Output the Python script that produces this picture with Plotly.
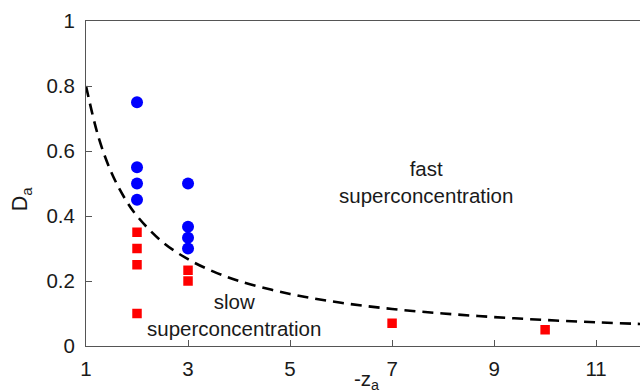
import plotly.graph_objects as go

# fast (blue circles)
fast_x = [2, 2, 2, 2, 3, 3, 3, 3]
fast_y = [0.75, 0.55, 0.50, 0.45, 0.50, 0.367, 0.333, 0.30]
# slow (red squares)
slow_x = [2, 2, 2, 2, 3, 3, 7, 10]
slow_y = [0.35, 0.30, 0.25, 0.10, 0.233, 0.20, 0.07, 0.05]
# dashed boundary curve
curve_x = [1, 1.25, 1.5, 1.75, 2, 2.5, 3, 3.5, 4, 5, 6, 7, 8, 9, 10, 11, 12]
curve_y = [0.80, 0.64, 0.533, 0.457, 0.40, 0.32, 0.267, 0.229, 0.20, 0.16, 0.133, 0.114, 0.10, 0.089, 0.08, 0.073, 0.067]

xticks = [1, 3, 5, 7, 9, 11]
yticks = [0, 0.2, 0.4, 0.6, 0.8, 1]
ytick_text = ["0", "0.2", "0.4", "0.6", "0.8", "1"]

FONT = "Liberation Sans, Arial, sans-serif"
TXT = "#1a1a1a"
FS = 20.5
fig = go.Figure()
fig.add_trace(go.Scatter(x=curve_x, y=curve_y, mode="lines", line=dict(color="black", width=2.6, dash="11px,7px"), line_shape="spline", hoverinfo="skip"))
fig.add_trace(go.Scatter(x=fast_x, y=fast_y, mode="markers", marker=dict(symbol="circle", size=12, color="#0000ff", line=dict(width=0))))
fig.add_trace(go.Scatter(x=slow_x, y=slow_y, mode="markers", marker=dict(symbol="square", size=9.5, color="#ff0000", line=dict(width=0))))

fig.add_annotation(x=7.67, y=0.505, text="fast<br>superconcentration", showarrow=False, font=dict(size=FS, color=TXT, family=FONT))
fig.add_annotation(x=3.9, y=0.094, text="slow<br>superconcentration", showarrow=False, font=dict(size=FS, color=TXT, family=FONT))
# axis titles
fig.add_annotation(xref="paper", yref="paper", x=0.507, y=-0.105, text="-z<sub>a</sub>", showarrow=False, yanchor="middle", font=dict(size=FS, color=TXT, family=FONT))
fig.add_annotation(xref="paper", yref="paper", x=-0.117, y=0.452, text="D<sub>a</sub>", textangle=-90, showarrow=False, xanchor="center", yanchor="middle", font=dict(size=FS + 1, color=TXT, family=FONT))

axis_common = dict(showgrid=False, zeroline=False, showline=True, linecolor="#555555", linewidth=1, mirror=True,
                   ticks="inside", ticklen=6, tickcolor="#555555", tickfont=dict(size=FS, color=TXT, family=FONT))
fig.update_xaxes(range=[1, 11.86], tickvals=xticks, ticklabelstandoff=4, **axis_common)
fig.update_yaxes(range=[0, 1], tickvals=yticks, ticktext=ytick_text, ticklabelstandoff=6, **axis_common)

fig.update_layout(width=640, height=392, margin=dict(l=86, r=0, t=21, b=46), paper_bgcolor="white", plot_bgcolor="white", showlegend=False, font=dict(family=FONT))
fig.write_html("out.html")
